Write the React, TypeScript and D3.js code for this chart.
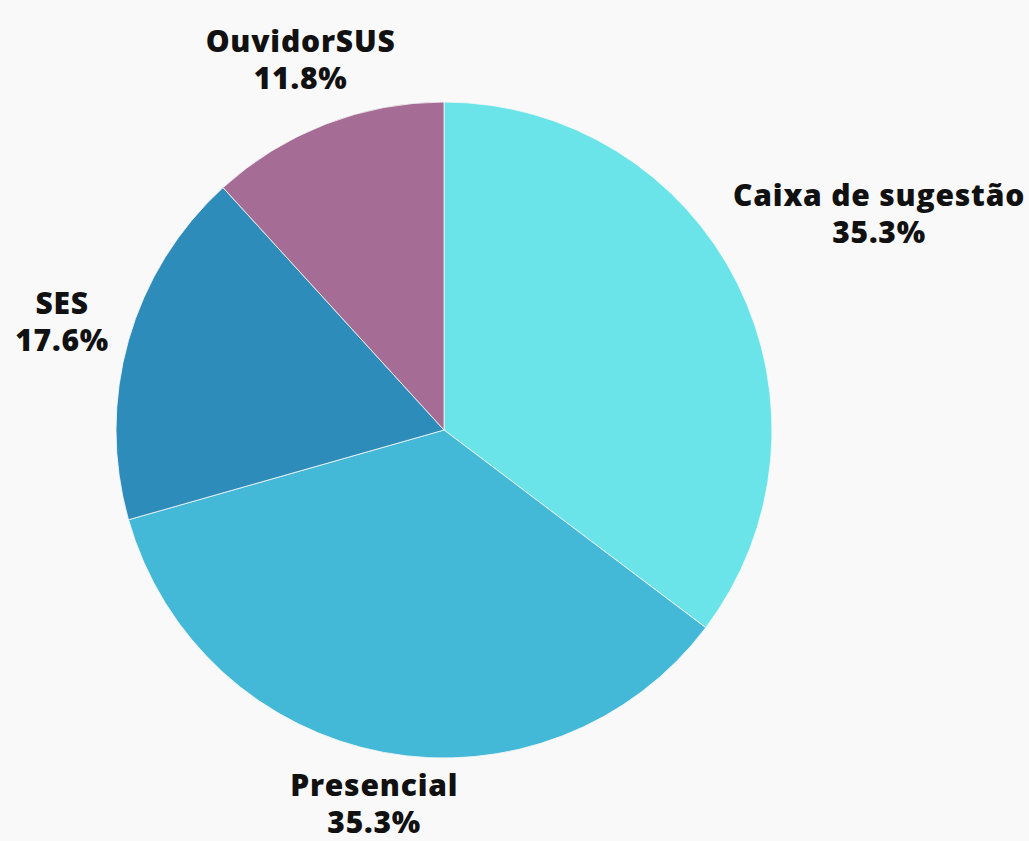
import React, { useRef, useEffect } from "react";
import * as d3 from "d3";

// counts per channel (6 + 6 + 3 + 2 = 17)
const categories = ["Caixa de sugestão", "Presencial", "SES", "OuvidorSUS"];
const values = [6, 6, 3, 2];
const colors = ["#6ae4e8", "#43b8d7", "#2e8cbb", "#a56d95"];

const App = () => {
  const svgRef = useRef<SVGSVGElement>(null);

  useEffect(() => {
    const width = 1029;
    const height = 841;
    const cx = 444;
    const cy = 430;
    const radius = 328;
    const gap = 16;
    const fontSize = 30;
    const lineH = 37;
    const capH = fontSize * 0.72;

    const svg = d3.select(svgRef.current);
    svg.selectAll("*").remove();

    svg.append("rect").attr("width", width).attr("height", height).attr("fill", "#f9f9f9");

    const total = d3.sum(values);
    const data = categories.map((c, i) => ({ name: c, value: values[i], color: colors[i] }));

    const pie = d3.pie<any>().value((d) => d.value).sort(null);
    const arc = d3.arc<any>().innerRadius(0).outerRadius(radius);
    const arcs = pie(data);

    const g = svg.append("g").attr("transform", `translate(${cx},${cy})`);

    g.selectAll("path")
      .data(arcs)
      .join("path")
      .attr("d", arc)
      .attr("fill", (d) => d.data.color)
      .attr("stroke", "#f9f9f9")
      .attr("stroke-width", 0.8);

    // labels: push each one out along its mid-angle until its box clears the pie
    const labels = g.selectAll("g.label")
      .data(arcs)
      .join("g")
      .attr("class", "label");

    labels.append("text")
      .attr("text-anchor", "middle")
      .attr("font-family", "'Open Sans', sans-serif")
      .attr("font-weight", 800)
      .attr("font-size", fontSize)
      .attr("letter-spacing", 0.8)
      .attr("fill", "#111")
      .selectAll("tspan")
      .data((d) => [d.data.name, d3.format(".1%")(d.data.value / total)])
      .join("tspan")
      .attr("x", 0)
      .attr("dy", (_, i) => (i === 0 ? 0 : lineH))
      .text((t) => t);

    labels.each(function (d) {
      const node = this as SVGGElement;
      const bb = (node.querySelector("text") as SVGTextElement).getBBox();
      const mid = (d.startAngle + d.endAngle) / 2;
      const sx = Math.sin(mid);
      const sy = -Math.cos(mid);
      // box from cap top of line 1 to baseline of line 2
      const w = bb.width;
      const top = -capH;
      const bottom = lineH;
      const boxCx = bb.x + w / 2;
      const boxCy = (top + bottom) / 2;
      const h = bottom - top;
      for (let R = radius; R < radius + 400; R += 0.5) {
        const px = R * sx - boxCx;
        const py = R * sy - boxCy;
        const x0 = R * sx - w / 2, x1 = R * sx + w / 2;
        const y0 = R * sy - h / 2, y1 = R * sy + h / 2;
        const nx = Math.max(x0, Math.min(0, x1));
        const ny = Math.max(y0, Math.min(0, y1));
        if (Math.hypot(nx, ny) >= radius + gap) {
          d3.select(node).attr("transform", `translate(${px},${py})`);
          break;
        }
      }
    });
  }, []);

  return (
    <svg
      ref={svgRef}
      width={1029}
      height={841}
      style={{ position: "absolute", left: 0, top: 0, display: "block" }}
    />
  );
};

export default App;
